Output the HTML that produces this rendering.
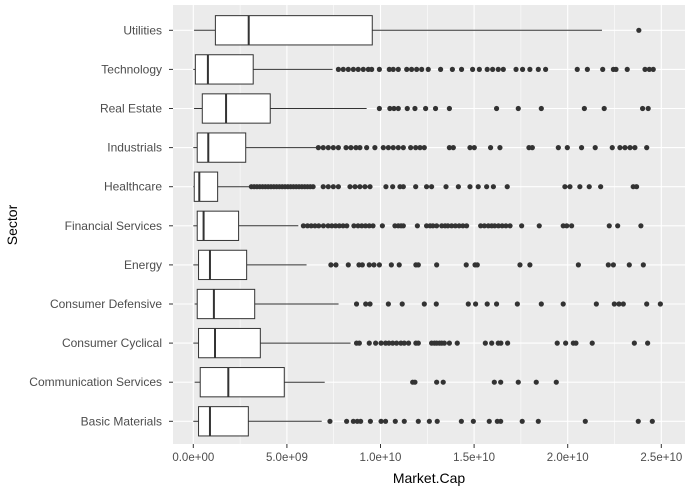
<!DOCTYPE html>
<html><head><meta charset="utf-8"><style>
html,body{margin:0;padding:0;background:#fff;}
svg{display:block;font-family:"Liberation Sans",Arial,sans-serif;}
</style></head><body>
<svg id="chart" width="692" height="491" viewBox="0 0 692 491"></svg>
<script>
const categories = ["Basic Materials","Communication Services","Consumer Cyclical","Consumer Defensive","Energy","Financial Services","Healthcare","Industrials","Real Estate","Technology","Utilities"];
// five-number summaries in billions: [whiskerLow, q1, median, q3, whiskerHigh]
const boxStats = [
 [0,0.28,0.89,2.94,6.86],
 [0.07,0.37,1.87,4.86,7.02],
 [0,0.28,1.16,3.58,8.4],
 [0.07,0.21,1.1,3.28,7.76],
 [0,0.28,0.89,2.85,6.05],
 [0,0.21,0.55,2.42,5.61],
 [0,0.05,0.32,1.3,3.06],
 [0,0.21,0.8,2.8,6.59],
 [0.04,0.48,1.75,4.11,9.26],
 [0,0.11,0.78,3.2,7.44],
 [0.04,1.18,2.96,9.56,21.83]
];
const outliers = [
 [7.3,8.19,8.55,8.76,8.94,9.46,10.03,10.27,10.79,11.27,12.02,12.61,13.03,14.32,14.96,15.81,16.24,16.42,17.57,18.43,20.94,23.77,24.52],
 [11.72,11.84,13.0,13.35,16.08,16.42,17.36,18.32,19.39],
 [8.72,8.87,9.4,9.74,10.03,10.27,10.45,10.65,10.86,11.09,11.27,11.5,11.89,12.02,12.73,12.88,13.0,13.15,13.27,13.41,13.68,14.1,15.6,15.94,16.29,16.43,16.79,19.44,19.89,20.3,20.44,21.31,23.56,24.27],
 [8.72,9.21,9.44,10.42,11.16,12.34,12.98,14.69,15.08,15.7,16.2,17.31,18.59,19.76,21.53,22.49,22.74,22.97,24.22,24.95],
 [7.35,7.62,8.28,8.85,9.03,9.4,9.65,9.94,10.58,11.0,11.89,12.02,13.0,14.58,15.05,15.17,17.45,17.98,20.57,22.17,22.44,23.29,24.04],
 [5.88,6.1,6.3,6.5,6.7,6.95,7.2,7.4,7.6,7.8,8.0,8.2,8.58,8.8,9.0,9.2,9.4,9.6,10.1,10.77,10.95,11.1,11.22,11.97,12.46,12.65,12.8,13.0,13.27,13.45,13.6,13.8,14.0,14.2,14.4,14.6,15.35,15.55,15.76,15.94,16.1,16.3,16.5,16.7,16.92,17.54,18.48,19.76,19.95,20.21,22.22,22.67,23.91],
 [3.1,3.25,3.4,3.55,3.7,3.85,4.0,4.15,4.3,4.45,4.6,4.75,4.9,5.05,5.2,5.35,5.5,5.65,5.8,5.95,6.1,6.25,6.4,6.94,7.21,7.48,7.75,8.37,8.64,8.9,9.17,9.44,10.29,10.65,11.04,11.22,11.88,12.46,12.73,13.5,14.16,14.78,15.22,15.67,16.03,16.77,19.85,20.12,20.65,21.15,21.76,23.5,23.68],
 [6.68,6.94,7.21,7.48,7.75,8.16,8.42,8.69,8.9,9.26,9.7,10.15,10.42,10.68,10.95,11.22,11.61,11.88,12.11,12.34,13.68,13.89,14.78,15.01,15.88,16.38,17.93,18.11,19.5,19.98,20.74,21.47,22.38,22.79,23.06,23.33,23.59,24.22],
 [9.94,10.5,10.72,10.95,11.43,11.84,12.41,12.94,13.68,16.2,17.36,18.59,20.89,21.95,24.0,24.3],
 [7.75,8.01,8.28,8.55,8.81,9.08,9.35,9.53,9.94,10.47,10.68,10.95,11.4,11.66,11.93,12.2,12.55,13.21,13.84,14.33,14.92,15.28,15.7,15.99,16.29,16.56,17.24,17.59,17.98,18.43,18.82,20.51,21.05,21.87,22.44,22.58,23.18,24.13,24.36,24.57],
 [23.8]
];
const xTicks = [0,5,10,15,20,25];
const xTickLabels = ["0.0e+00","5.0e+09","1.0e+10","1.5e+10","2.0e+10","2.5e+10"];

const NS="http://www.w3.org/2000/svg";
const svg=document.getElementById('chart');
const P={l:173,r:685,t:5,b:444};
const x=v=>193.3+v*18.72;
const y=i=>421.3-i*39.1;
function mk(tag,attrs,parent){const e=document.createElementNS(NS,tag);for(const k in attrs)e.setAttribute(k,attrs[k]);(parent||svg).appendChild(e);return e;}

const panel=mk('rect',{x:P.l,y:P.t,width:P.r-P.l,height:P.b-P.t,fill:'#ebebeb'});


for(let i=0;i<xTicks.length;i++){
  if(i>0){const m=mk('line',{x1:x(xTicks[i]-2.5),x2:x(xTicks[i]-2.5),y1:P.t,y2:P.b,stroke:'#fff','stroke-width':0.55});
  
  }
  const g=mk('line',{x1:x(xTicks[i]),x2:x(xTicks[i]),y1:P.t,y2:P.b,stroke:'#fff','stroke-width':1.1});
  
  
}
{const m=mk('line',{x1:x(27.5),x2:x(27.5),y1:P.t,y2:P.b,stroke:'#fff','stroke-width':0.55});}
categories.forEach((c,i)=>{
  const g=mk('line',{x1:P.l,x2:P.r,y1:y(i),y2:y(i),stroke:'#fff','stroke-width':1.1});
  
  
});
categories.forEach((c,i)=>{
  const s=boxStats[i],yc=y(i),h=29.3;
  const grp=mk('g',{});
  
  
  mk('line',{x1:x(s[0]),x2:x(s[1]),y1:yc,y2:yc,stroke:'#333','stroke-width':1},grp);
  mk('line',{x1:x(s[3]),x2:x(s[4]),y1:yc,y2:yc,stroke:'#333','stroke-width':1},grp);
  mk('rect',{x:x(s[1]),y:yc-h/2,width:x(s[3])-x(s[1]),height:h,fill:'#fff',stroke:'#333','stroke-width':1},grp);
  mk('line',{x1:x(s[2]),x2:x(s[2]),y1:yc-h/2,y2:yc+h/2,stroke:'#333','stroke-width':2},grp);
  outliers[i].forEach(v=>{
    const p=mk('circle',{cx:x(v),cy:yc,r:2.6,fill:'#333'},grp);
    
    
  });
  const t=mk('text',{x:162,y:yc+4,'text-anchor':'end','font-size':12,fill:'#4d4d4d'});
  t.textContent=c;
  
  
  mk('line',{x1:169,x2:173,y1:yc,y2:yc,stroke:'#333','stroke-width':1});
});
xTicks.forEach((v,i)=>{
  mk('line',{x1:x(v),x2:x(v),y1:P.b,y2:P.b+4,stroke:'#333','stroke-width':1});
  const t=mk('text',{x:x(v),y:461,'text-anchor':'middle','font-size':11.5,fill:'#4d4d4d'});
  t.textContent=xTickLabels[i];
  
  
});
const xt=mk('text',{x:429,y:483,'text-anchor':'middle','font-size':14,fill:'#000'});
xt.textContent='Market.Cap';


const yt=mk('text',{x:17,y:225,'text-anchor':'middle','font-size':14,fill:'#000',transform:'rotate(-90 17 225)'});
yt.textContent='Sector';


</script>
</body></html>
